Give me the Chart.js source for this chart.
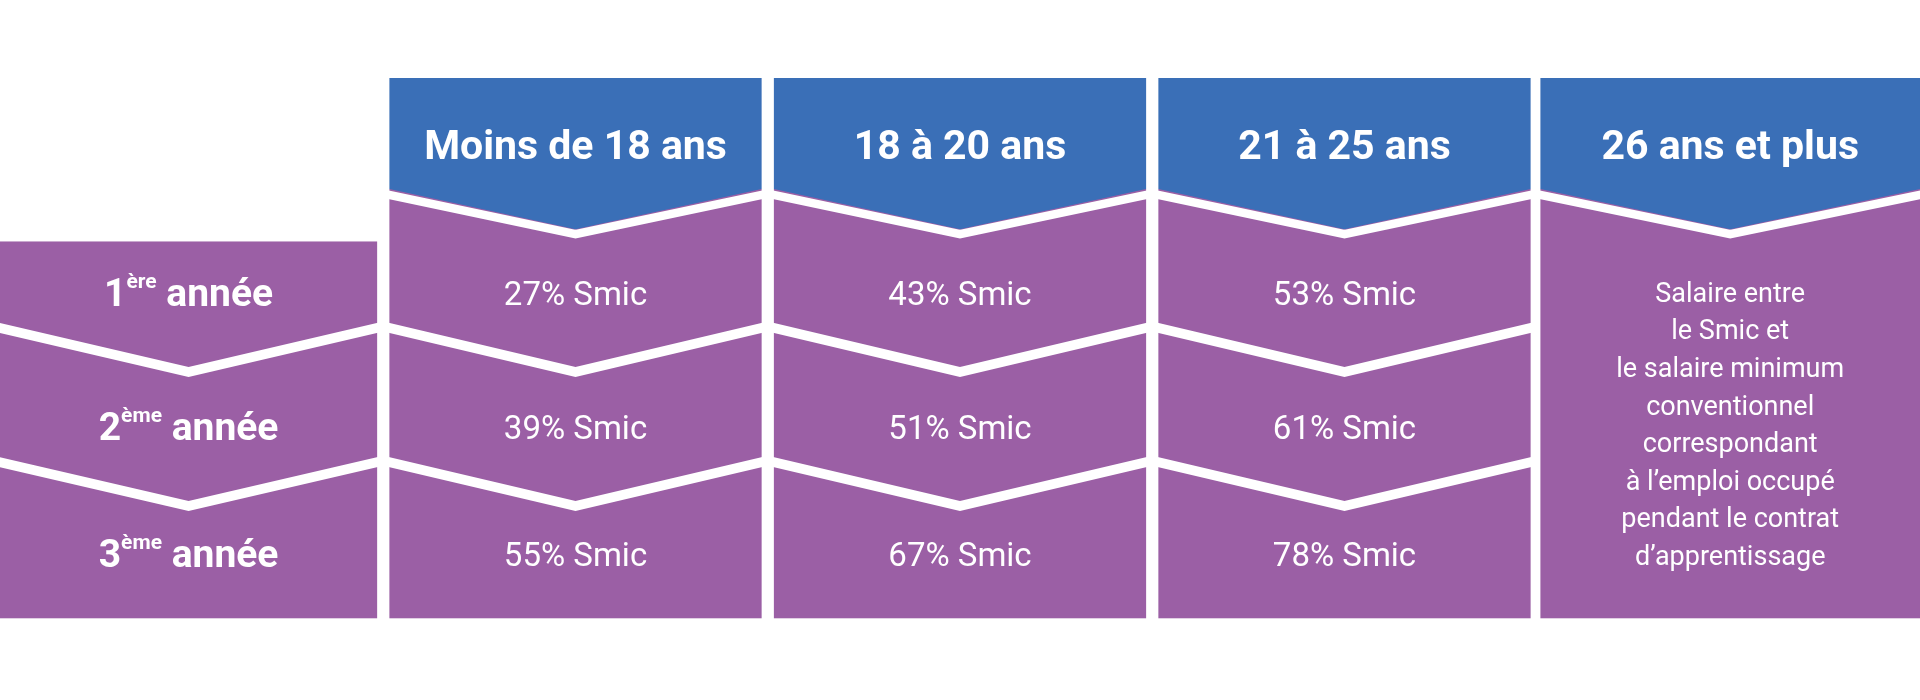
<!DOCTYPE html>
<html>
<head>
<meta charset="utf-8">
<script src="https://cdn.jsdelivr.net/npm/chart.js@4"></script>
<style>
html,body{margin:0;padding:0;background:#fff;}
</style>
</head>
<body>
<canvas id="myChart" width="1920" height="700"></canvas>
<script>
// data
const ages = ["Moins de 18 ans", "18 à 20 ans", "21 à 25 ans", "26 ans et plus"];
const years = [["1", "ère"], ["2", "ème"], ["3", "ème"]];
const rates = [
  ["27% Smic", "39% Smic", "55% Smic"],
  ["43% Smic", "51% Smic", "67% Smic"],
  ["53% Smic", "61% Smic", "78% Smic"]
];
const lastText = ["Salaire entre", "le Smic et", "le salaire minimum", "conventionnel",
  "correspondant", "à l\u2019emploi occupé", "pendant le contrat", "d\u2019apprentissage"];

// layout (in reference units 1568 x 574)
const cols = [[0, 308], [318, 622], [632, 936], [946, 1250], [1258, 1568]];
const BLUE = "#3a6fb7", PURPLE = "#9b5fa5";
const FONT = "'Liberation Sans Narrow','Roboto','DejaVu Sans Condensed',sans-serif";

const drawPlugin = {
  id: "grid",
  afterDraw(chart) {
    const c = chart.ctx, xs = chart.scales.x, ys = chart.scales.y;
    const X = v => xs.getPixelForValue(v), Y = v => ys.getPixelForValue(v);
    const k = Y(100) - Y(0);
    c.save();
    c.lineJoin = "miter";
    cols.forEach(([a, b], i) => {
      const mid = (a + b) / 2;
      // purple body
      c.fillStyle = PURPLE;
      const top = i === 0 ? 198 : 155;
      c.fillRect(X(a), Y(top), X(b) - X(a), Y(507) - Y(top));
      if (i > 0) {
        // blue header chevron
        c.fillStyle = BLUE;
        c.beginPath();
        c.moveTo(X(a), Y(64)); c.lineTo(X(b), Y(64)); c.lineTo(X(b), Y(155));
        c.lineTo(X(mid), Y(188)); c.lineTo(X(a), Y(155)); c.closePath(); c.fill();
        c.strokeStyle = "#fff"; c.lineWidth = 7 * k / 100;
        c.beginPath();
        c.moveTo(X(a) - 5, Y(159)); c.lineTo(X(mid), Y(192)); c.lineTo(X(b) + 5, Y(159)); c.stroke();
        c.fillStyle = "#fff";
        c.font = "bold " + Math.round(34 * k / 100) + "px " + FONT;
        c.textAlign = "center"; c.textBaseline = "middle";
        c.fillText(ages[i - 1], X(mid), Y(122));
      }
      if (i < 4) {
        // row separators
        c.strokeStyle = "#fff"; c.lineWidth = 8 * k / 100;
        [268, 378].forEach(yy => {
          c.beginPath();
          c.moveTo(X(a) - 5, Y(yy)); c.lineTo(X(mid), Y(yy + 37)); c.lineTo(X(b) + 5, Y(yy)); c.stroke();
        });
      }
    });
    const rowY = [243, 353, 457];
    c.fillStyle = "#fff"; c.textBaseline = "middle";
    // row headers
    years.forEach(([n, sup], r) => {
      const big = "bold " + Math.round(32 * k / 100) + "px " + FONT;
      const small = "bold " + Math.round(17 * k / 100) + "px " + FONT;
      c.font = big; const w1 = c.measureText(n).width, w3 = c.measureText(" année").width;
      c.font = small; const w2 = c.measureText(sup).width;
      let x = X(154) - (w1 + w2 + w3) / 2;
      c.textAlign = "left";
      c.font = big; c.fillText(n, x, Y(rowY[r]));
      c.font = small; c.fillText(sup, x + w1, Y(rowY[r] - 11));
      c.font = big; c.fillText(" année", x + w1 + w2, Y(rowY[r]));
    });
    // rates
    c.textAlign = "center";
    c.font = Math.round(27 * k / 100) + "px " + FONT;
    rates.forEach((col, i) => {
      const mid = (cols[i + 1][0] + cols[i + 1][1]) / 2;
      col.forEach((t, r) => c.fillText(t, X(mid), Y(rowY[r])));
    });
    c.font = Math.round(22 * k / 100) + "px " + FONT;
    const m4 = (cols[4][0] + cols[4][1]) / 2;
    lastText.forEach((t, j) => c.fillText(t, X(m4), Y(242 + j * 30.8)));
    c.restore();
  }
};

const ctx = document.getElementById("myChart").getContext("2d");
new Chart(ctx, {
  type: "scatter",
  data: { datasets: [{ data: [] }] },
  options: {
    responsive: false, animation: false,
    layout: { padding: 0 },
    plugins: { legend: { display: false }, tooltip: { enabled: false } },
    scales: {
      x: { type: "linear", display: false, min: 0, max: 1568 },
      y: { type: "linear", display: false, min: 0, max: 574, reverse: true }
    }
  },
  plugins: [drawPlugin]
});
</script>
</body>
</html>
